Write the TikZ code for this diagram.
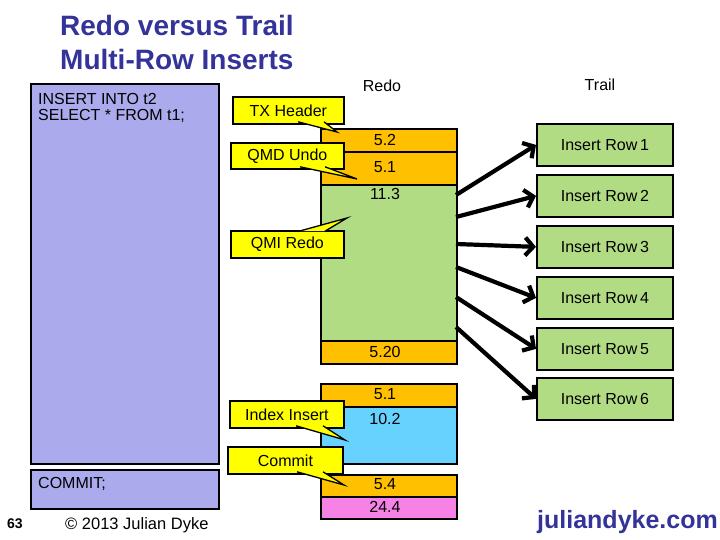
\documentclass[tikz,border=0pt]{standalone}
\usepackage{fontspec}
\setmainfont{Liberation Sans}
\usetikzlibrary{arrows.meta,calc}
\definecolor{lav}{RGB}{170,170,236}
\definecolor{org}{RGB}{255,192,0}
\definecolor{grn}{RGB}{178,220,132}
\definecolor{blu}{RGB}{104,210,255}
\definecolor{pnk}{RGB}{246,130,230}
\definecolor{ttl}{RGB}{51,51,153}
\definecolor{callyel}{RGB}{255,255,0}
\newcommand{\callptr}[3]{%
  \fill[callyel] #1 -- #2 -- #3 -- cycle;
  \draw[line width=1.3pt, line join=miter] #1 -- #2 -- #3;}
\begin{document}
\begin{tikzpicture}[x=1pt,y=-1pt,
  box/.style={draw=black, line width=1.8pt, inner sep=0pt, anchor=north west},
  txt/.style={font=\fontsize{16}{19}\selectfont, inner sep=0pt},
  call/.style={box, fill=callyel, font=\fontsize{16}{19}\selectfont},
  arr/.style={line width=4.2pt, -{Straight Barb[length=8pt,width=18pt,line width=4.2pt]}}]
\useasboundingbox (0,0) rectangle (720,540);

% title
\node[anchor=base west, inner sep=0pt, text=ttl, font=\fontsize{28}{34}\selectfont\bfseries] (title1) at (60,36) {Redo versus Trail};
\node[anchor=base west, inner sep=0pt, text=ttl, font=\fontsize{28}{34}\selectfont\bfseries] (title2) at (60,70) {Multi-Row Inserts};

% statement boxes
\node[box, fill=lav, minimum width=188, minimum height=380] (stmt) at (30,83) {};
\node[txt, anchor=base west, font=\fontsize{16}{16}\selectfont] (ins1) at (38,105) {INSERT INTO t2};
\node[txt, anchor=base west, font=\fontsize{16}{16}\selectfont] (ins2) at (38,121) {SELECT * FROM t1;};
\node[box, fill=lav, minimum width=188, minimum height=39] (commit) at (30,469) {};
\node[txt, anchor=base west] (committxt) at (38,488) {COMMIT;};

% column headers
\node[txt] (redolbl) at (382,86) {Redo};
\node[txt] (traillbl) at (600,85) {Trail};

% redo column
\node[box, fill=org, minimum width=136, minimum height=23] (r1) at (320,128) {};
\node[box, fill=org, minimum width=136, minimum height=33] (r2) at (320,151) {};
\node[box, fill=grn, minimum width=136, minimum height=156] (g) at (320,184) {};
\node[box, fill=org, minimum width=136, minimum height=23] (r3) at (320,340) {};
\node[box, fill=org, minimum width=136, minimum height=23] (r4) at (320,383) {};
\node[box, fill=blu, minimum width=136, minimum height=57] (b) at (320,406) {};
\node[box, fill=org, minimum width=136, minimum height=22] (r5) at (320,474) {};
\node[box, fill=pnk, minimum width=136, minimum height=22] (r6) at (320,496) {};
\node[txt] (t52) at (385,139.5) {5.2};
\node[txt] (t51) at (385,167.5) {5.1};
\node[txt] (t113) at (385,194) {11.3};
\node[txt] (t520) at (385,352) {5.20};
\node[txt] (t51b) at (385,394.5) {5.1};
\node[txt] (t102) at (385,418.5) {10.2};
\node[txt] (t54) at (385,484.5) {5.4};
\node[txt] (t244) at (385,506.5) {24.4};

% trail boxes
\foreach \i/\y in {1/123,2/174,3/225,4/276,5/327,6/377}{
  \node[box, fill=grn, minimum width=136, minimum height=42, font=\fontsize{16}{19}\selectfont] (tr\i) at (536,\y) {Insert Row\,\i};
}

% arrows
\coordinate (s1) at (456,195);
\coordinate (s2) at (456,217);
\coordinate (s3) at (456,244);
\coordinate (s4) at (456,267);
\coordinate (s5) at (456,297);
\coordinate (s6) at (456,327);
\foreach \i in {1,...,6}{
  \draw[arr] (s\i) -- (tr\i.west);
}

% callouts
\node[call, minimum width=111, minimum height=27] (txh) at (232,96) {TX Header};
\callptr{(298,121.8)}{(337,132)}{(324,121.8)}
\node[call, minimum width=113, minimum height=26] (qmd) at (230,142) {QMD Undo};
\callptr{(300,166.8)}{(357,179)}{(325,166.8)}
\node[call, minimum width=113, minimum height=27] (qmi) at (230,230) {QMI Redo};
\callptr{(299,231.2)}{(347,218)}{(325,231.2)}
\node[call, minimum width=114, minimum height=27] (idx) at (229,400) {Index Insert};
\callptr{(296,425.8)}{(345,440)}{(323,425.8)}
\node[call, minimum width=115, minimum height=27] (cmt) at (227,446) {Commit};
\callptr{(297,471.8)}{(344,485)}{(323,471.8)}

% footer
\node[anchor=base, inner sep=0pt, font=\fontsize{14}{16}\selectfont\bfseries] (pg) at (15,528) {63};
\node[anchor=base west, inner sep=0pt, font=\fontsize{16.5}{19}\selectfont] (copy) at (65,529) {© 2013 Julian Dyke};
\node[anchor=base east, inner sep=0pt, text=ttl, font=\fontsize{25}{30}\selectfont\bfseries] (site) at (718,528) {juliandyke.com};
\end{tikzpicture}
\end{document}
